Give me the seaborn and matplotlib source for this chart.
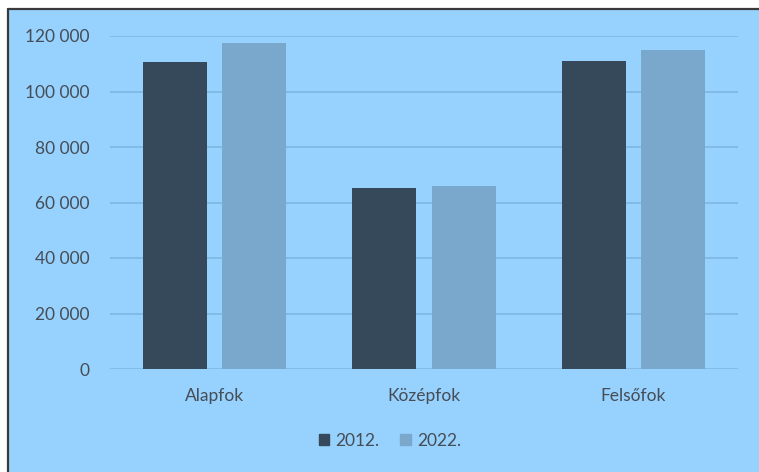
import matplotlib
matplotlib.use("Agg")
import matplotlib.pyplot as plt
import seaborn as sns
import pandas as pd
from matplotlib.patches import Rectangle
from matplotlib.lines import Line2D

categories = ["Alapfok", "Középfok", "Felsőfok"]
years = ["2012.", "2022."]
values_2012 = [110700, 65200, 111000]
values_2022 = [117500, 65900, 115000]
yticks = [0, 20000, 40000, 60000, 80000, 100000, 120000]
ytick_labels = ["0", "20 000", "40 000", "60 000", "80 000", "100 000", "120 000"]

df = pd.DataFrame({
    "cat": categories * 2,
    "year": [years[0]] * 3 + [years[1]] * 3,
    "value": values_2012 + values_2022,
})

sns.set_theme(style="white")
plt.rcParams["font.family"] = ["Lato", "DejaVu Sans"]

BG = "#97D1FE"
C1 = "#35495A"
C2 = "#7AA8CD"
TXT = "#454D55"

fig = plt.figure(figsize=(7.59, 4.72), dpi=100)
fig.patch.set_facecolor("white")
W, H = 759, 472
fig.patches.append(Rectangle((8 / W, 0), 1 - 8 / W, 1 - 9 / H, transform=fig.transFigure,
                             facecolor=BG, edgecolor="none", zorder=-5))
fig.lines.append(Line2D([8 / W, 8 / W], [0, 1 - 9 / H], transform=fig.transFigure,
                        color="#3a3a3a", lw=1.6, zorder=-4))
fig.lines.append(Line2D([8 / W, 1], [1 - 9 / H, 1 - 9 / H], transform=fig.transFigure,
                        color="#3a3a3a", lw=1.6, zorder=-4))

ax = fig.add_axes([110 / W, 1 - 369 / H, 628 / W, 333 / H])
ax.set_facecolor("none")
ax.patch.set_alpha(0)
sns.barplot(data=df, x="cat", y="value", hue="year", palette=[C1, C2],
            width=0.756, gap=0.19, ax=ax, legend=False, saturation=1,
            linewidth=0, edgecolor="none")

ax.set_xlim(-0.5, 2.5)
ax.set_ylim(0, 120000)
ax.set_yticks(yticks)
ax.set_yticklabels(ytick_labels)
ax.yaxis.grid(True, color="#80B9E4", lw=1.3)
ax.set_axisbelow(True)
for s in ax.spines.values():
    s.set_visible(False)
ax.tick_params(axis="both", length=0, labelsize=12.5, labelcolor=TXT)
ax.tick_params(axis="y", pad=14.5)
ax.tick_params(axis="x", pad=14)
ax.set_xlabel("")
ax.set_ylabel("")

handles = [Rectangle((0, 0), 1, 1, color=C1), Rectangle((0, 0), 1, 1, color=C2)]
fig.legend(handles, years, loc="center", bbox_to_anchor=(390 / W, 1 - 441 / H),
           ncol=2, frameon=False, fontsize=12.5, labelcolor=TXT,
           handlelength=0.6, handleheight=0.6, handletextpad=0.35, columnspacing=1.2)

fig.savefig("out.png", dpi=100, facecolor=fig.get_facecolor())
